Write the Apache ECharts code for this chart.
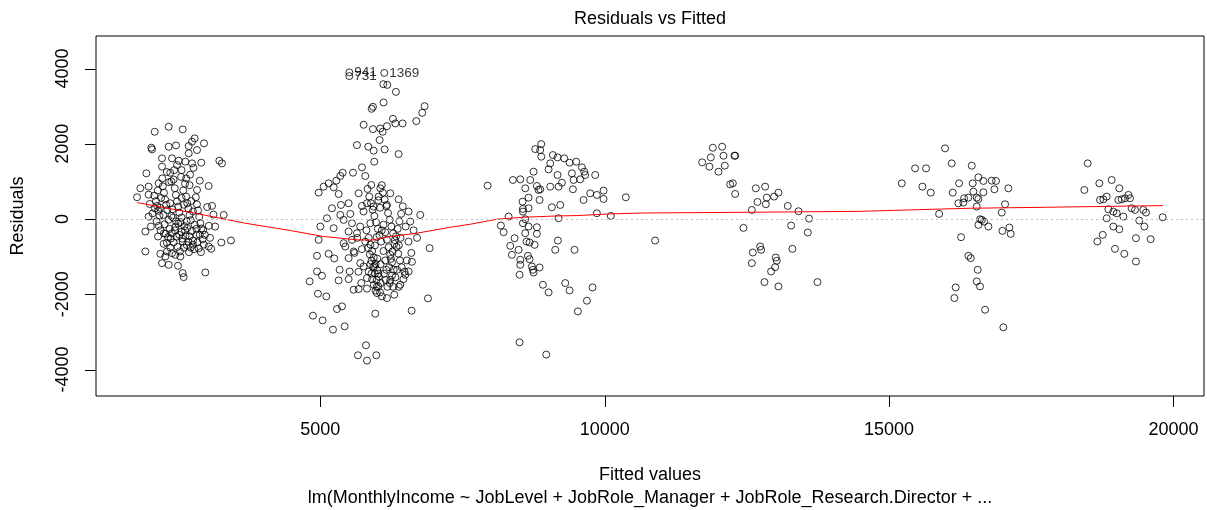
<!DOCTYPE html>
<html>
<head>
<meta charset="utf-8">
<script src="https://cdn.jsdelivr.net/npm/echarts@6/dist/echarts.min.js"></script>
<style>
  html, body { margin: 0; padding: 0; background: #fff; }
  #chart { width: 1207px; height: 510px; }
</style>
</head>
<body>
<div id="chart"></div>
<script>
// Axis ticks and limits
const xTicks = [5000, 10000, 15000, 20000];
const yTicks = [-4000, -2000, 0, 2000, 4000];
const xLimits = [1055, 20538];
const yLimits = [-4703, 4865];

// Texts
const chartTitle = 'Residuals vs Fitted';
const xTitle = 'Fitted values';
const yTitle = 'Residuals';
const modelCall = 'lm(MonthlyIncome ~ JobLevel + JobRole_Manager + JobRole_Research.Director + ...';

// [fitted, residual] — job level 1 group
const level1Points = [
  [2087,2320],[2333,2453],[2579,2382],[2790,2143],[2743,2055],[2954,2011],[2028,1896],[2040,1852],
  [2333,1922],[2462,1958],[2685,1940],[2831,1834],[3224,1551],[3270,1480],[2907,1498],[2685,1746],
  [2626,1525],[2392,1613],[2216,1613],[1940,1215],[2216,1392],[2480,1436],[2743,1480],[2157,950],
  [1835,817],[1777,579],[1981,862],[3036,879],[2831,773],[3095,349],[3300,110],[1923,-332],
  [1981,66],[2146,-464],[2245,-659],[3259,-624],[3428,-570],[1923,-862],[2186,-924],[2274,-995],
  [2216,-1172],[2333,-1216],[2497,-1242],[2579,-1437],[2597,-1543],[2977,-1419],[2450,-951],[2392,-906],
  [2304,-862],[2538,-995],[3036,-730],
  [2080,620],[2110,480],[2130,350],[2150,220],[2170,90],[2120,-60],[2160,-180],[2190,-300],[2140,760],
  [2230,870],[2250,700],[2270,520],[2290,380],[2310,240],[2240,110],[2330,-20],[2260,-140],[2350,-260],
  [2280,-390],[2370,-520],[2300,-630],[2220,1080],[2360,1230],[2340,980],
  [2420,1050],[2440,820],[2460,640],[2480,470],[2500,330],[2520,170],[2410,40],[2540,-80],[2450,-210],
  [2560,-340],[2470,-470],[2580,-600],[2490,-740],[2530,-860],[2430,1300],[2510,1550],[2550,1120],[2590,760],
  [2620,940],[2640,600],[2660,420],[2680,280],[2700,110],[2720,-30],[2610,-190],[2740,-320],[2630,-450],
  [2760,-570],[2650,-690],[2780,-800],[2690,-880],[2710,1180],[2770,1360],[2730,480],
  [2810,580],[2830,390],[2850,230],[2870,60],[2890,-110],[2910,-250],[2820,-420],[2930,-540],[2950,-680],
  [2860,-780],[2880,1020],[2970,-420],
  [3010,320],[3040,-180],[3060,-500],[3080,-790],[3150,-200],[3120,120],[2000,400],[2050,150],[2020,-200],[1980,650],
  [2300,1250],[2560,1300],[2640,1080],[2380,1000],[2700,900],
  [2200,560],[2360,420],[2400,260],[2560,560],[2600,380],[2760,200],[2790,-150],[2600,-760],[2680,-600],
  [2720,-760],[2840,-620],[2900,-880],[2420,-620],[2360,-760],[2500,-120],[2650,-60],[2180,300],[2090,280],
  [2250,-380],[2320,-480],[2390,-380],[2440,-300],[2520,-420],[2570,-520],[2620,-300],[2700,-460],
  [2760,-680],[2820,-260],[2880,-420],[2940,-300],[2660,-240],[2460,-60],[2380,80],[2560,40]
];

// job level 2 group
const level2Points = [
  [6107,3584],[6177,3566],[6329,3380],[6833,3000],[6792,2823],[6687,2603],[6112,3098],[5925,2983],
  [5902,2930],[6277,2664],[6446,2541],[6318,2541],[6171,2470],[6054,2408],[5925,2390],[5761,2505],
  [6095,2320],[6042,2099],[5843,1922],[5644,1966],[5937,1816],[6130,1851],[6376,1727],[5948,1524],
  [5732,1374],[5574,1232],[5392,1232],[5790,1144],[5351,1144],[5281,1020],[5146,950],[5058,861],
  [4970,702],[5234,843],[5322,666],[5896,905],[6054,817],[5673,684],[5820,419],[5732,348],
  [6376,525],[6230,684],[6171,375],[6025,596],[5937,330],[5878,-112],
  [5204,287],[5363,375],[5497,420],[5116,22],[5351,110],[5527,137],[5000,-199],[5234,-243],
  [4970,-553],[5409,-641],[4941,-977],[5146,-924],[5245,-1048],[5339,-1348],[5322,-1631],[5497,-1596],
  [5515,-1393],[4941,-1393],[5029,-1508],[4812,-1658],[4958,-1985],[5105,-2056],[5292,-2392],[5380,-2321],
  [4870,-2568],[5040,-2692],[5222,-2939],[5427,-2851],[5802,-3355],[5661,-3620],[5820,-3762],[5984,-3620],
  [5966,-2515],[6605,-2436],[6892,-2109],[6610,-1136],[6921,-774],[6757,110],[6552,199],[6581,-67],
  [5585,-1879],[5673,-1861],[6300,-2011],[6171,-2100],[6083,-2056],[5995,-1967],[6405,-1746],[6552,-1393],
  [6493,-1481],[6230,-1614],[5820,-1569],[5761,-1260],[5702,-1172],[5497,-1039],[5585,-862],[5439,-730],
  [5556,-553],[5644,-376],[5497,-332],[5409,-22],[5556,-111],
  [5830,800],[5860,600],[5890,420],[5920,250],[5950,80],[5980,-90],[6010,-260],[6040,-430],[6070,-600],
  [5840,-770],[5870,-940],[5900,-1110],[5930,-1280],[5960,-1450],[5990,-1620],[6020,-1790],[6050,-1950],
  [5810,-300],[5850,-500],[5880,-680],[5910,-850],[5940,-1020],[5970,-1190],[6000,-1360],[6030,-1530],
  [6060,-1700],[5820,-1850],[5850,-1400],[5880,-1200],[5910,-1600],[5940,-1750],[5970,-1900],
  [6100,700],[6130,520],[6160,340],[6190,160],[6220,-20],[6250,-200],[6280,-380],[6310,-560],[6340,-740],
  [6370,-920],[6400,-1100],[6430,-1280],[6120,-1450],[6150,-1620],[6180,-1800],[6210,-1280],[6240,-1060],
  [6270,-860],[6300,-660],[6330,-460],[6360,-260],[6390,-60],[6420,140],[6450,340],[6110,-150],[6140,-350],
  [6170,-550],[6200,-750],[6230,-950],[6260,-1150],[6290,-1350],[6320,-1550],[6350,-1350],[6380,-700],
  [6410,-500],[6080,900],[6050,300],[6020,500],[5760,200],[5790,-600],[5700,-200],[5730,-800],[5650,-500],
  [5600,-900],[5670,-1400],[5720,-1700],[6500,-200],[6550,-600],[6600,-900],[6480,-1400],[6520,-1100],
  [6640,-300],[6700,-500],[6460,-1600],[6380,-1800],
  [5960,-700],[6000,-1050],[5990,-480],[6060,-1200],[6020,-1450],[5900,-1450],[5950,-1250],[5990,-1800],
  [6140,-1100],[6110,-850],[6080,-300],[6160,-1350],[6260,-1500],[6280,-1800],[6220,-1700]
];

// job level 3 group
const level3Points = [
  [8884,1993],[8779,1860],[8866,1834],[8884,1657],[9089,1701],[9171,1639],[9288,1613],[9382,1498],
  [9499,1524],[9042,1480],[9013,1321],[9171,1171],[9423,1215],[9599,1374],[9640,1259],[9657,1171],
  [9833,1171],[9569,1056],[9452,1038],[9247,967],[9189,861],[9042,861],[9441,791],[8749,1259],
  [8691,1038],[8515,1056],[8386,1038],[8603,817],[8808,879],[8837,773],[8866,791],[7941,888],
  [8661,569],[8556,463],[8855,507],[9628,507],[9745,684],[9862,640],[9980,755],[9980,534],
  [10372,578],[9071,313],[9218,375],[8562,269],[8661,287],[8562,198],[8310,66],[8603,-5],
  [9189,21],[9862,154],[10108,83],[8562,-111],[8175,-173],[8222,-350],[8661,-199],[8808,-217],
  [8808,-394],[8603,-376],[8415,-509],[8626,-597],[8679,-624],[8767,-686],[8339,-712],[8486,-818],
  [8368,-951],[9177,-571],[9130,-818],[9470,-818],[8650,-977],[8679,-1066],[8515,-1083],[8515,-1216],
  [8720,-1260],[8855,-1287],[8737,-1349],[8749,-1419],[8503,-1481],[8913,-1747],[9013,-1950],[9306,-1702],
  [9382,-1897],[9786,-1817],[9687,-2171],[9528,-2454],[8503,-3276],[8972,-3603]
];

// job level 4 group
const level4Points = [
  [11901,1895],[12065,1922],[11866,1639],[12089,1683],[12282,1683],[12294,1683],[11714,1507],[11842,1392],
  [12112,1418],[12001,1259],[12206,923],[12253,950],[12294,667],[12657,817],[12821,861],[13055,702],
  [12979,596],[12850,569],[12686,455],[12833,393],[13219,348],[12587,242],[13407,207],[13594,12],
  [10887,-571],[12440,-235],[13278,-173],[13571,-359],[12733,-730],[12604,-889],[12751,-818],[13301,-792],
  [12587,-1172],[13008,-1022],[13026,-1110],[12997,-1278],[12926,-1393],[12809,-1676],[13055,-1791],[13741,-1676]
];

// job level 5 group, lower fitted range
const level5Points = [
  [15223,950],[15458,1347],[15651,1347],[15587,861],[15733,702],[15985,1878],[16102,1480],[16454,1418],
  [16231,950],[16120,702],[15880,136],[16571,1109],[16471,950],[16659,1012],[16805,1020],[16881,1012],
  [16852,791],[17098,817],[16659,711],[16483,729],[16395,569],[16319,552],[16219,419],[16307,437],
  [16542,569],[16571,534],[16542,331],[17040,393],[16981,172],[16600,-5],[16671,-67],[16630,-23],
  [16571,-155],[16747,-199],[17116,-226],[16993,-314],[17139,-394],[16266,-482],[16395,-977],[16436,-1039],
  [16559,-1349],[16542,-1658],[16600,-1791],[16172,-1817],[16149,-2100],[16688,-2410],[17010,-2878]
];

// job level 5 group, upper fitted range
const level6Points = [
  [18493,1480],[18434,773],[18698,950],[18915,1038],[19049,817],[18710,508],[18768,525],[18827,596],
  [19032,508],[19091,525],[19149,552],[19208,640],[19237,552],[18856,260],[18944,198],[19003,154],
  [19120,66],[18827,21],[19266,287],[19325,243],[19471,243],[19518,172],[19400,-40],[19811,48],
  [18944,-199],[19049,-270],[19489,-199],[18757,-420],[18663,-597],[19342,-509],[19600,-535],[18973,-792],
  [19137,-924],[19342,-1128]
];

// Observations with the largest residuals: [fitted, residual, row id]
const flaggedPoints = [
  [5509, 3899, '941'],
  [5509, 3800, '731'],
  [6124, 3884, '1369']
];

// Smoothed trend of residuals against fitted values
const smoothCurve = [
  [1777,437],[2216,313],[2802,154],[3680,-111],[4472,-305],[5058,-464],[5644,-553],[5907,-560],
  [6230,-464],[6698,-376],[7284,-217],[7636,-138],[8105,-5],[8574,48],[9159,83],[9511,92],
  [10097,136],[10624,160],[12500,180],[14491,205],[15370,243],[16425,287],[17772,313],[18592,331],[19817,357]
];

const FONT = '"Liberation Sans", Arial, sans-serif';
const TICK_LEN = 11;
const allPoints = [].concat(level1Points, level2Points, level3Points, level4Points, level5Points, level6Points);

const chart = echarts.init(document.getElementById('chart'), null, { renderer: 'canvas' });

const circleStyle = { color: 'rgba(0,0,0,0)', borderColor: '#000', borderWidth: 1 };
const plainNumber = v => String(v);
const crisp = v => Math.round(v) + 0.5;

const textElements = [
  {
    type: 'text', id: 'title', x: 650, y: 19, z: 10,
    style: { text: chartTitle, font: '18px ' + FONT, fill: '#000', align: 'center', verticalAlign: 'middle' }
  },
  {
    type: 'text', id: 'call', x: 650, y: 498, z: 10,
    style: { text: modelCall, font: '18px ' + FONT, fill: '#000', align: 'center', verticalAlign: 'middle' }
  }
];

chart.setOption({
  animation: false,
  backgroundColor: '#fff',
  textStyle: { fontFamily: FONT },
  grid: {
    left: 96, right: 3, top: 36, bottom: 114,
    show: true, borderColor: '#000', borderWidth: 1
  },
  xAxis: {
    type: 'value',
    min: xLimits[0], max: xLimits[1],
    name: xTitle,
    nameLocation: 'middle',
    nameGap: 70,
    nameTextStyle: { fontSize: 18, color: '#000', fontFamily: FONT },
    axisLine: { show: false, onZero: false },
    axisTick: { show: false },
    axisLabel: { customValues: xTicks, formatter: plainNumber, fontSize: 18, color: '#000', margin: 25, fontFamily: FONT },
    splitLine: { show: false }
  },
  yAxis: {
    type: 'value',
    min: yLimits[0], max: yLimits[1],
    name: yTitle,
    nameLocation: 'middle',
    nameGap: 69,
    nameRotate: 90,
    nameTextStyle: { fontSize: 18, color: '#000', fontFamily: FONT },
    axisLine: { show: false, onZero: false },
    axisTick: { show: false },
    axisLabel: { customValues: yTicks, formatter: plainNumber, fontSize: 18, color: '#000', rotate: 90, margin: 24, fontFamily: FONT },
    splitLine: { show: false }
  },
  graphic: textElements,
  series: [
    {
      type: 'scatter',
      data: allPoints,
      symbol: 'circle',
      symbolSize: 7,
      itemStyle: circleStyle,
      emphasis: { disabled: true },
      z: 2
    },
    {
      type: 'scatter',
      data: flaggedPoints.map(p => ({ value: [p[0], p[1]], name: p[2] })),
      symbol: 'circle',
      symbolSize: 7,
      itemStyle: circleStyle,
      label: {
        show: true, position: 'right', distance: 1,
        formatter: p => p.name,
        fontSize: 13.5, color: '#000', fontFamily: FONT
      },
      emphasis: { disabled: true },
      z: 3
    },
    {
      type: 'line',
      data: smoothCurve,
      showSymbol: false,
      symbol: 'none',
      smooth: false,
      lineStyle: { color: '#ff0000', width: 1 },
      z: 4,
      markLine: {
        silent: true,
        symbol: 'none',
        label: { show: false },
        lineStyle: { color: '#bebebe', type: [2, 3], width: 1 },
        data: [{ yAxis: 0 }],
        z: 5
      }
    }
  ]
});

// Outward tick marks on the bottom and left edges, placed through the axis scales
const tickElements = [];
xTicks.forEach((v, i) => {
  const p = chart.convertToPixel({ gridIndex: 0 }, [v, yLimits[0]]);
  const x = crisp(p[0]);
  tickElements.push({
    type: 'line', id: 'xt' + i, z: 10, silent: true,
    shape: { x1: x, y1: p[1], x2: x, y2: p[1] + TICK_LEN },
    style: { stroke: '#000', lineWidth: 1 }
  });
});
yTicks.forEach((v, i) => {
  const p = chart.convertToPixel({ gridIndex: 0 }, [xLimits[0], v]);
  const y = crisp(p[1]);
  tickElements.push({
    type: 'line', id: 'yt' + i, z: 10, silent: true,
    shape: { x1: p[0] - TICK_LEN, y1: y, x2: p[0], y2: y },
    style: { stroke: '#000', lineWidth: 1 }
  });
});
chart.setOption({ graphic: textElements.concat(tickElements) });
</script>
</body>
</html>
